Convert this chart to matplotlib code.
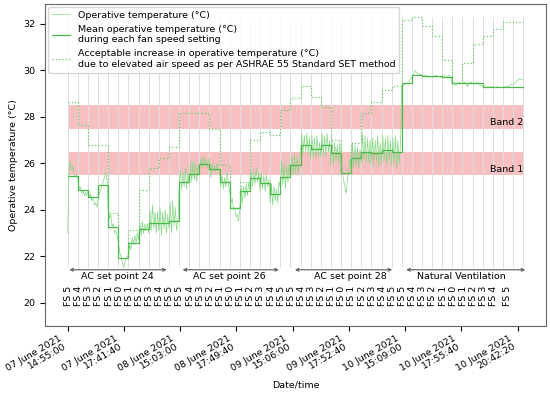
import numpy as np
import matplotlib.pyplot as plt

# each fan speed setting was held for 1800 samples (30 min, logged every second)
seg_len = 1800

fan_speed = ['FS 5', 'FS 4', 'FS 3', 'FS 2', 'FS 1', 'FS 0',
             'FS 1', 'FS 2', 'FS 3', 'FS 4', 'FS 5'] * 4
periods = ['AC set point 24', 'AC set point 26', 'AC set point 28', 'Natural Ventilation']

date_labels = ['07 June 2021\n14:55:00', '07 June 2021\n17:41:40',
               '08 June 2021\n15:03:00', '08 June 2021\n17:49:40',
               '09 June 2021\n15:06:00', '09 June 2021\n17:52:40',
               '10 June 2021\n15:09:00', '10 June 2021\n17:55:40',
               '10 June 2021\n20:42:20']

# mean operative temperature for each 30 min block
mean_temp = [25.45, 24.86, 24.57, 25.07, 23.28, 21.92, 22.56, 23.17, 23.43, 23.45, 23.52,
             25.22, 25.55, 25.96, 25.77, 25.20, 24.07, 24.80, 25.36, 25.16, 24.70, 25.40,
             25.94, 26.77, 26.63, 26.77, 26.44, 25.58, 26.22, 26.51, 26.44, 26.58, 26.48,
             29.45, 29.80, 29.75, 29.75, 29.72, 29.45, 29.45, 29.45, 29.30, 29.28, 29.28, 29.28]

# acceptable operative temperature with elevated air speed (SET method)
accept_temp = [28.63, 27.66, 26.78, 26.78, 23.86, 21.92, 23.14, 24.86, 25.82, 26.22, 26.70,
               28.16, 28.16, 28.16, 27.46, 25.95, 24.07, 25.20, 27.00, 27.37, 27.23, 28.30,
               28.80, 29.33, 28.87, 28.44, 27.00, 25.58, 26.87, 28.16, 28.66, 29.16, 29.33,
               32.17, 32.30, 31.90, 31.50, 30.45, 29.45, 30.30, 31.15, 31.50, 31.80, 32.07, 32.07]

# operative temperature readings, one list per block
op_temp = [
    [23.0, 25.8, 26.1, 25.7, 25.9, 25.5, 25.4, 25.5],
    [25.3, 24.9, 25.0, 24.7, 24.85, 24.6, 24.75, 24.6],
    [24.8, 24.5, 24.7, 24.4, 24.5, 24.2, 24.3, 24.1],
    [24.5, 24.7, 24.9, 25.0, 25.2, 25.4, 25.6, 25.3],
    [24.0, 23.6, 23.8, 23.3, 23.4, 23.0, 23.1, 22.9],
    [22.6, 22.2, 22.0, 21.8, 21.5, 21.7, 21.9, 22.0],
    [22.0, 22.5, 22.3, 22.8, 22.5, 22.9, 22.6, 23.0],
    [22.7, 23.4, 22.9, 23.5, 23.0, 23.4, 23.1, 23.4],
    [23.0, 24.0, 23.1, 24.2, 23.2, 23.9, 23.0, 23.9],
    [23.1, 24.1, 22.9, 23.9, 23.2, 24.0, 23.0, 23.8],
    [23.2, 24.3, 23.0, 24.4, 23.3, 24.1, 23.1, 23.5],
    [24.8, 25.7, 24.9, 25.6, 25.0, 25.8, 24.9, 25.6],
    [25.1, 26.0, 25.2, 26.1, 25.3, 26.0, 25.2, 25.9],
    [25.7, 26.2, 25.8, 26.3, 25.9, 26.2, 25.8, 26.1],
    [26.2, 25.4, 26.0, 25.7, 25.9, 25.6, 26.0, 25.8],
    [25.7, 25.0, 25.5, 24.9, 25.4, 25.0, 25.6, 25.1],
    [24.8, 24.3, 24.5, 24.0, 24.1, 23.7, 23.8, 23.5],
    [24.0, 25.0, 24.3, 25.0, 24.5, 25.1, 24.6, 25.2],
    [24.9, 25.7, 25.0, 25.6, 25.1, 25.8, 25.2, 25.6],
    [24.8, 25.6, 24.9, 25.5, 24.8, 25.5, 25.0, 25.3],
    [24.3, 25.1, 24.2, 25.0, 24.4, 24.9, 24.3, 25.2],
    [25.0, 26.1, 25.1, 26.0, 24.9, 25.9, 25.2, 26.0],
    [25.4, 26.3, 25.5, 26.4, 25.6, 26.3, 25.5, 26.2],
    [26.4, 27.3, 26.4, 27.2, 26.5, 27.3, 26.4, 27.1],
    [26.2, 27.2, 26.3, 27.1, 26.2, 27.2, 26.3, 26.9],
    [26.3, 27.3, 26.4, 27.2, 26.3, 27.3, 26.5, 27.0],
    [25.9, 27.0, 26.0, 26.9, 26.1, 26.8, 26.0, 26.9],
    [26.0, 25.6, 25.3, 25.0, 24.7, 25.3, 25.8, 26.2],
    [25.8, 26.9, 25.8, 26.8, 25.9, 26.7, 25.8, 26.6],
    [26.0, 27.3, 26.1, 27.2, 26.0, 27.1, 26.0, 27.0],
    [26.0, 27.1, 25.9, 27.0, 26.1, 27.2, 25.9, 26.9],
    [26.0, 27.2, 26.1, 27.1, 26.0, 27.2, 26.1, 27.0],
    [25.9, 27.1, 26.0, 27.2, 25.8, 27.0, 26.0, 26.9],
    [29.3, 29.35, 29.4, 29.45, 29.5, 29.6],
    [29.7, 29.85, 30.0, 29.9, 29.85, 29.8],
    [29.8, 29.75, 29.8, 29.75, 29.7, 29.75],
    [29.75, 29.7, 29.8, 29.75, 29.75, 29.7],
    [29.75, 29.8, 29.7, 29.75, 29.8, 29.7],
    [29.4, 29.45, 29.35, 29.45, 29.5, 29.45],
    [29.4, 29.5, 29.45, 29.3, 29.45, 29.5],
    [29.45, 29.4, 29.5, 29.45, 29.4, 29.35],
    [29.3, 29.3, 29.25, 29.3, 29.28, 29.3],
    [29.3, 29.25, 29.28, 29.3, 29.25, 29.28],
    [29.25, 29.3, 29.28, 29.3, 29.35, 29.4],
    [29.4, 29.45, 29.55, 29.6, 29.65, 29.6],
]

n_seg = len(mean_temp)
edges = np.arange(n_seg + 1) * seg_len

op_x, op_y = [], []
for k, vals in enumerate(op_temp):
    op_x.extend(k * seg_len + np.linspace(0, seg_len, len(vals), endpoint=False))
    op_y.extend(vals)
op_x.append(edges[-1])
op_y.append(op_temp[-1][-1])

fs = 6.8

fig = plt.figure(figsize=(5.5, 3.94), dpi=100)
ax = fig.add_axes([0.0818, 0.1726, 0.9109, 0.8172])

# comfort bands
ax.fill_between([edges[0], edges[-1]], 27.5, 28.5, color='#f08080', alpha=0.5, lw=0, zorder=0)
ax.fill_between([edges[0], edges[-1]], 25.5, 26.5, color='#f08080', alpha=0.5, lw=0, zorder=0)
ax.text(edges[-1], 27.55, 'Band 2', ha='right', va='bottom', fontsize=fs)
ax.text(edges[-1], 25.55, 'Band 1', ha='right', va='bottom', fontsize=fs)

ax.vlines(edges, 21.55, 32.3, color='0.87', lw=0.7, zorder=0)

ax.plot(op_x, op_y, color='#84d984', lw=0.5, label='Operative temperature (°C)')
ax.step(edges, mean_temp + [mean_temp[-1]], where='post', color='#4cb84c', lw=0.9,
        label='Mean operative temperature (°C)\nduring each fan speed setting')
ax.step(edges, accept_temp + [accept_temp[-1]], where='post', color='#6acb6a', lw=0.9, ls=':',
        label='Acceptable increase in operative temperature (°C)\n'
              'due to elevated air speed as per ASHRAE 55 Standard SET method')

# fan speed labels under each block
for k, lab in enumerate(fan_speed):
    x = k * seg_len + 150
    if k == len(fan_speed) - 1:
        x = 43.4 * seg_len
    ax.text(x, 20.72, lab, rotation=90, ha='center', va='top', fontsize=fs)

# period arrows
arrow_ends = [(0.16, 9.76), (11.35, 20.85), (22.45, 32.05), (33.45, 45.2)]
text_pos = [4.9, 16.0, 27.95, 38.9]
for (a, b), tx, name in zip(arrow_ends, text_pos, periods):
    ax.annotate('', xy=(a * seg_len, 21.42), xytext=(b * seg_len, 21.42),
                arrowprops=dict(arrowstyle='<->', color='0.35', lw=0.8,
                                shrinkA=0, shrinkB=0, mutation_scale=5))
    ax.text(tx * seg_len, 21.15, name, ha='center', va='center', fontsize=fs)

ax.set_xticks(np.arange(len(date_labels)) * 10000)
ax.set_xticklabels(date_labels, rotation=30, ha='right', fontsize=fs, linespacing=1.0)
ax.tick_params(axis='x', pad=2)
ax.set_yticks(range(20, 33, 2))
ax.tick_params(axis='y', labelsize=fs)
ax.set_xlim(-4050, 85050)
ax.set_ylim(19, 32.86)
ax.set_xlabel('Date/time', fontsize=fs, labelpad=0)
ax.set_ylabel('Operative temperature (°C)', fontsize=fs)
for s in ax.spines.values():
    s.set_color('0.4')

ax.legend(loc='upper left', fontsize=fs, borderaxespad=0.3, labelspacing=0.55)

plt.savefig('out.png', dpi=100)
